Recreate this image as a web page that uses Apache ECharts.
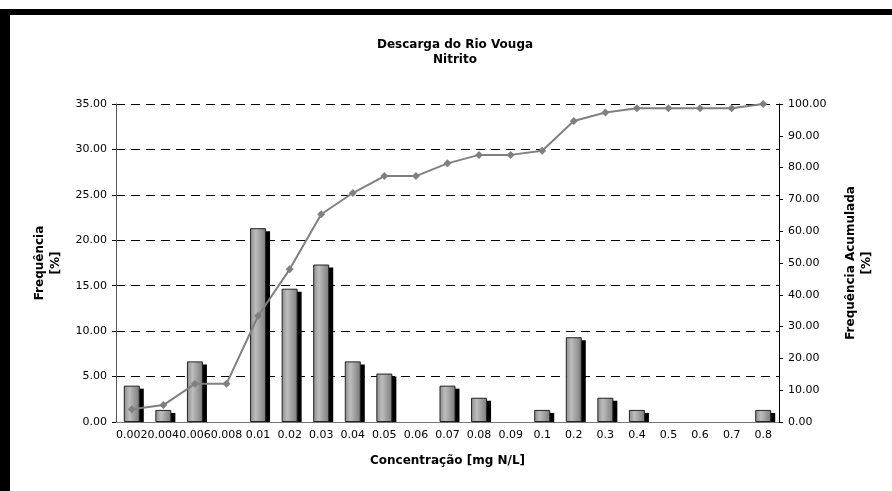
<!DOCTYPE html>
<html>
<head>
<meta charset="utf-8">
<script src="https://cdn.jsdelivr.net/npm/echarts@6/dist/echarts.min.js"></script>
<style>
  html, body { margin: 0; padding: 0; background: #fff; }
  #chart { position: absolute; left: 0; top: 0; width: 892px; height: 491px; }
  #frame { position: absolute; left: 0; top: 9px; right: 0; bottom: 0;
           border-top: 6px solid #000; border-left: 10px solid #000; pointer-events: none; }
</style>
</head>
<body>
<div id="chart"></div>
<div id="frame"></div>
<script>
var categories = ['0.002', '0.004', '0.006', '0.008', '0.01', '0.02', '0.03', '0.04', '0.05', '0.06',
  '0.07', '0.08', '0.09', '0.1', '0.2', '0.3', '0.4', '0.5', '0.6', '0.7', '0.8'];
// frequência [%]
var frequencia = [4.00, 1.33, 6.67, 0, 21.33, 14.67, 17.33, 6.67, 5.33, 0,
  4.00, 2.67, 0, 1.33, 9.33, 2.67, 1.33, 0, 0, 0, 1.33];
// frequência acumulada [%]
var acumulada = [4.00, 5.33, 12.00, 12.00, 33.33, 48.00, 65.33, 72.00, 77.33, 77.33,
  81.33, 84.00, 84.00, 85.33, 94.67, 97.33, 98.67, 98.67, 98.67, 98.67, 100.00];

var chartDom = document.getElementById('chart');
var myChart = echarts.init(chartDom);
var font = 'DejaVu Sans';
var BAR_W = 16;

// empty classes are not drawn at all
var barData = frequencia.map(function (v) { return v === 0 ? '-' : v; });
var shadowData = frequencia.map(function (v, i) { return [i, v]; });

var option = {
  animation: false,
  title: {
    text: 'Descarga do Rio Vouga\nNitrito',
    left: 450,
    textAlign: 'center',
    top: 32,
    textStyle: { fontFamily: font, fontWeight: 'bold', fontSize: 12, lineHeight: 15, color: '#000' }
  },
  grid: { left: 116, right: 113, top: 104, bottom: 69 },
  xAxis: {
    type: 'category',
    data: categories,
    name: 'Concentração [mg N/L]',
    nameLocation: 'middle',
    nameGap: 33,
    nameTextStyle: { fontFamily: font, fontWeight: 'bold', fontSize: 12, color: '#000' },
    axisLine: { lineStyle: { color: '#777', width: 1 } },
    axisTick: { length: 4, lineStyle: { color: '#000' } },
    axisLabel: { interval: 0, fontFamily: font, fontSize: 11, color: '#000', margin: 8 }
  },
  yAxis: [
    {
      type: 'value',
      min: 0, max: 35, interval: 5,
      name: 'Frequência\n[%]',
      nameLocation: 'middle',
      nameGap: 52,
      nameTextStyle: { fontFamily: font, fontWeight: 'bold', fontSize: 12, lineHeight: 16, color: '#000' },
      axisLine: { show: true, lineStyle: { color: '#555' } },
      axisTick: { show: true, length: 4, lineStyle: { color: '#000' } },
      axisLabel: { formatter: function (v) { return v.toFixed(2); }, fontFamily: font, fontSize: 11, color: '#000', margin: 9 },
      splitLine: { lineStyle: { color: '#000', type: [9, 6], width: 1 } }
    },
    {
      type: 'value',
      min: 0, max: 100, interval: 10,
      name: 'Frequência Acumulada\n[%]',
      nameLocation: 'middle',
      nameGap: 64,
      nameTextStyle: { fontFamily: font, fontWeight: 'bold', fontSize: 12, lineHeight: 16, color: '#000' },
      axisLine: { show: true, lineStyle: { color: '#000' } },
      axisTick: { show: true, length: 4, lineStyle: { color: '#000' } },
      axisLabel: { formatter: function (v) { return v.toFixed(2); }, fontFamily: font, fontSize: 11, color: '#000', margin: 9 },
      splitLine: { show: false }
    }
  ],
  series: [
    {
      // black drop shadow behind each bar
      name: 'sombra',
      type: 'custom',
      yAxisIndex: 0,
      data: shadowData,
      encode: { x: 0, y: 1 },
      silent: true,
      renderItem: function (params, api) {
        var v = api.value(1);
        if (!v) return null;
        var top = api.coord([api.value(0), v]);
        var base = api.coord([api.value(0), 0]);
        return {
          type: 'rect',
          shape: { x: top[0] - BAR_W / 2 + 4, y: top[1] + 3, width: BAR_W, height: base[1] - top[1] - 3 },
          style: { fill: '#000' }
        };
      }
    },
    {
      name: 'Frequência',
      type: 'bar',
      yAxisIndex: 0,
      data: barData,
      barWidth: BAR_W,
      itemStyle: {
        color: new echarts.graphic.LinearGradient(0, 0, 1, 0, [
          { offset: 0, color: '#8c8c8c' },
          { offset: 0.35, color: '#bdbdbd' },
          { offset: 1, color: '#7a7a7a' }
        ]),
        borderColor: '#222',
        borderWidth: 1
      }
    },
    {
      name: 'Frequência Acumulada',
      type: 'line',
      yAxisIndex: 1,
      data: acumulada,
      symbol: 'diamond',
      symbolSize: 8,
      lineStyle: { color: '#808080', width: 2 },
      itemStyle: { color: '#808080' }
    }
  ]
};

option && myChart.setOption(option);
</script>
</body>
</html>
